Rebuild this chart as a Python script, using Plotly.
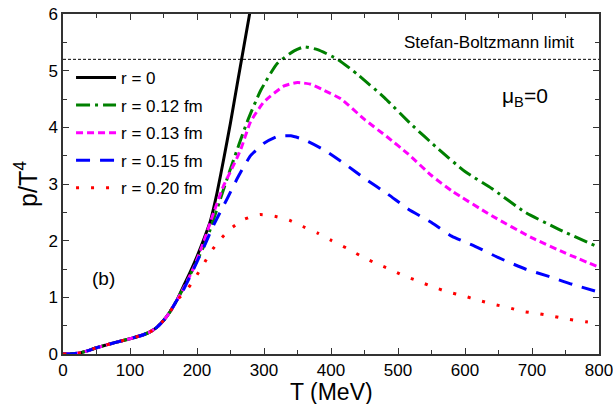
import plotly.graph_objects as go

# ---------------- data ----------------
T_low = [0, 15, 25, 35, 50, 65, 80, 100, 120, 130, 140, 150, 160, 170]
p_low = [0, 0.005, 0.02, 0.05, 0.11, 0.16, 0.21, 0.27, 0.34, 0.39, 0.47, 0.59, 0.75, 0.95]

T_r0 = T_low + [180, 190, 200, 210, 220, 230, 240, 250, 260, 270, 280]
p_r0 = p_low + [1.2, 1.45, 1.72, 2.02, 2.35, 2.85, 3.45, 4.08, 4.76, 5.43, 6.1]

T_r12 = T_low + [180, 200, 215, 235, 250, 275, 295, 320, 345, 360, 380,
                 410, 440, 480, 520, 560, 600, 640, 690, 740, 800]
p_r12 = p_low + [1.17, 1.64, 2.04, 2.74, 3.27, 4.1, 4.65, 5.13, 5.35, 5.42, 5.37,
                 5.2, 4.93, 4.52, 4.05, 3.62, 3.22, 2.92, 2.5, 2.2, 1.88]

T_r13 = T_low + [180, 195, 210, 225, 240, 250, 265, 280, 300, 330, 350, 370,
                 390, 415, 450, 485, 515, 550, 580, 640, 700, 750, 800]
p_r13 = p_low + [1.16, 1.52, 1.98, 2.5, 2.98, 3.22, 3.6, 4.1, 4.45, 4.73, 4.79, 4.76,
                 4.65, 4.5, 4.14, 3.82, 3.53, 3.15, 2.88, 2.44, 2.05, 1.78, 1.53]

T_r15 = T_low + [180, 195, 210, 225, 245, 262, 280, 300, 320, 340, 360, 390,
                 420, 450, 485, 515, 550, 580, 615, 650, 690, 725, 760, 800]
p_r15 = p_low + [1.14, 1.5, 1.88, 2.28, 2.74, 3.14, 3.5, 3.72, 3.84, 3.85, 3.78, 3.6,
                 3.36, 3.1, 2.82, 2.56, 2.32, 2.08, 1.9, 1.7, 1.5, 1.37, 1.23, 1.09]

T_r20 = T_low + [183, 197, 209, 221, 234, 249, 271, 294, 316, 338, 358, 381,
                 401, 423, 443, 465, 487, 507, 529, 551, 573, 597, 619, 642, 664, 687, 710, 734, 756, 780, 800]
p_r20 = p_low + [1.1, 1.34, 1.57, 1.81, 2.01, 2.2, 2.38, 2.46, 2.43, 2.36, 2.25, 2.13,
                 2.0, 1.87, 1.74, 1.61, 1.5, 1.39, 1.29, 1.19, 1.1, 1.03, 0.95, 0.88, 0.82, 0.75, 0.71, 0.66, 0.61, 0.57, 0.54]

sb_limit = 5.2
x_range = [0, 800]
y_range = [0, 6]

# ---------------- figure ----------------
font_family = "Arial"
fig = go.Figure()

series = [
    (T_r0, p_r0, "r = 0", "black", "solid"),
    (T_r12, p_r12, "r = 0.12 fm", "#008000", "14px,5px,3px,5px"),
    (T_r13, p_r13, "r = 0.13 fm", "#ff00ff", "7px,4px"),
    (T_r15, p_r15, "r = 0.15 fm", "#0000ff", "14px,10px"),
    (T_r20, p_r20, "r = 0.20 fm", "#ff0000", "3px,12px"),
]
for i, (x, y, name, color, dash) in enumerate(series):
    fig.add_trace(go.Scatter(x=x, y=y, mode="lines", name=name, legendgroup=f"g{i}",
                             line=dict(color=color, width=3, dash=dash, shape="spline", smoothing=0.5)))

# Stefan-Boltzmann limit line
fig.add_trace(go.Scatter(x=x_range, y=[sb_limit, sb_limit], mode="lines", showlegend=False,
                         line=dict(color="black", width=1, dash="3px,2px")))

fig.add_annotation(x=766, y=5.49, xref="x", yref="y", text="Stefan-Boltzmann limit", showarrow=False,
                   xanchor="right", yanchor="middle", font=dict(size=17, color="black", family=font_family))
fig.add_annotation(x=0.815, y=0.755, xref="paper", yref="paper", text="μ<sub>B</sub>=0", showarrow=False,
                   xanchor="left", yanchor="middle", font=dict(size=21, color="black", family=font_family))
fig.add_annotation(x=40, y=1.34, xref="x", yref="y", text="(b)", showarrow=False,
                   xanchor="left", yanchor="middle", font=dict(size=19, color="black", family=font_family))
# x-axis title
fig.add_annotation(x=0.5, y=-0.147, xref="paper", yref="paper", text="T (MeV)", showarrow=False,
                   xanchor="center", yanchor="bottom", yshift=-3,
                   font=dict(size=23, color="black", family=font_family))

axis_common = dict(
    showline=True, linecolor="#333333", linewidth=1.5, mirror="ticks",
    ticks="inside", ticklen=6, tickwidth=1.2, tickcolor="#333333",
    showgrid=False, zeroline=False, automargin=False,
    tickfont=dict(size=17, color="black", family=font_family),
    ticklabeloverflow="allow",
)

fig.update_xaxes(range=x_range, dtick=100, tick0=0,
                 minor=dict(ticks="inside", dtick=50, ticklen=4, tickcolor="#333333", tickwidth=1.2, showgrid=False),
                 **axis_common)
fig.update_yaxes(range=y_range, dtick=1, tick0=0,
                 title=dict(text="p/T<sup>4</sup>", font=dict(size=25, color="black", family=font_family), standoff=4),
                 minor=dict(ticks="inside", dtick=0.5, ticklen=4, tickcolor="#333333", tickwidth=1.2, showgrid=False),
                 **axis_common)

fig.update_layout(
    width=613, height=404,
    margin=dict(l=63, r=14, t=14, b=50),
    paper_bgcolor="white", plot_bgcolor="white",
    font=dict(family=font_family, color="black"),
    showlegend=True,
    legend=dict(x=0.015, y=0.865, xanchor="left", yanchor="top", bgcolor="rgba(0,0,0,0)",
                font=dict(size=17, color="black", family=font_family), tracegroupgap=2.5, itemwidth=40),
)

fig.write_html("out.html")
